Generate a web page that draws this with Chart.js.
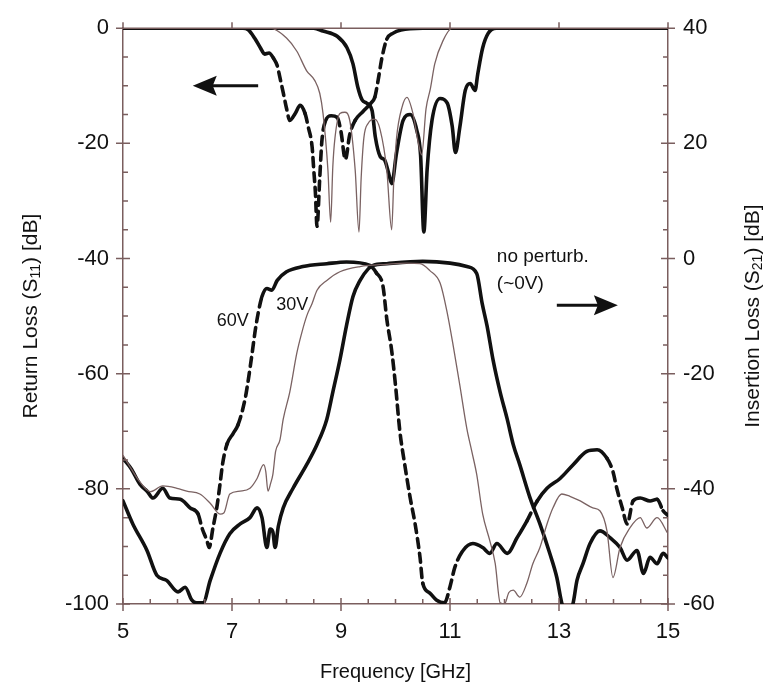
<!DOCTYPE html>
<html>
<head>
<meta charset="utf-8">
<script src="https://cdn.jsdelivr.net/npm/chart.js@4.4.1/dist/chart.umd.min.js"></script>
<style>
  html, body { margin: 0; padding: 0; background: #fff; }
</style>
</head>
<body>
<canvas id="chart" width="769" height="696"></canvas>
<script>
// axis ticks
const freqTicks = [5, 7, 9, 11, 13, 15];
const returnLossTicks = [0, -20, -40, -60, -80, -100];
const insertionLossTicks = [40, 20, 0, -20, -40, -60];

// S11 (left axis), no perturbation (~0 V)
const s11NoPertFreq = [5, 8.5, 8.67, 8.93, 9.11, 9.22, 9.31, 9.39, 9.47, 9.57, 9.63, 9.72, 9.8, 9.87, 9.93, 10.02, 10.14, 10.27, 10.39, 10.46, 10.52, 10.58, 10.67, 10.82, 10.95, 11.04, 11.1, 11.18, 11.28, 11.37, 11.46, 11.51, 11.6, 11.7, 11.85, 15];
const s11NoPertDb   = [0, 0, -0.5, -1.4, -3.4, -6.2, -10.3, -12.5, -13, -14.3, -18.9, -22.3, -22.9, -25, -27, -21.6, -16, -15, -17.7, -22, -35.4, -24.6, -16, -12.2, -13, -17, -21.6, -17.2, -10.8, -9.6, -10.8, -7.9, -3.4, -0.9, 0, 0];

// S11, 30 V
const s11V30Freq = [5, 7.7, 8.0, 8.19, 8.37, 8.52, 8.61, 8.67, 8.76, 8.81, 8.85, 8.89, 8.98, 9.07, 9.16, 9.26, 9.33, 9.37, 9.42, 9.5, 9.62, 9.72, 9.84, 9.93, 9.97, 10.02, 10.12, 10.21, 10.32, 10.42, 10.48, 10.56, 10.64, 10.72, 10.87, 11.04, 15];
const s11V30Db   = [0, 0, -1.7, -4, -7.4, -9.1, -11.3, -14.8, -24.6, -33.7, -24, -19, -14.8, -14.6, -16, -24.6, -35.4, -26, -19, -16.5, -15.8, -17.7, -24.6, -35, -26, -19, -13.7, -12, -14.8, -20, -22, -14, -10.5, -6.2, -2.2, 0, 0];

// S11, 60 V
const s11V60Freq = [5, 7.2, 7.3, 7.42, 7.52, 7.6, 7.68, 7.76, 7.83, 7.88, 7.94, 8.0, 8.06, 8.16, 8.25, 8.34, 8.4, 8.47, 8.5, 8.53, 8.56, 8.61, 8.65, 8.72, 8.82, 8.93, 9.0, 9.08, 9.16, 9.26, 9.4, 9.55, 9.62, 9.68, 9.75, 9.84, 9.95, 10.1, 10.5, 15];
const s11V60Db   = [0, 0, -0.3, -1.8, -3.4, -4.5, -4.3, -5.2, -6.5, -8.6, -11.2, -13.9, -16, -14.8, -13.4, -14.8, -17.2, -20.6, -24.6, -28.5, -34.4, -26, -19.5, -16, -15.2, -15.5, -18, -22.8, -18.5, -16, -14.5, -13, -12, -9.1, -5.2, -1.9, -0.9, -0.3, 0, 0];

// S21 (right axis), no perturbation
const s21NoPertFreq = [5, 5.18, 5.44, 5.62, 5.8, 6.01, 6.14, 6.26, 6.35, 6.47, 6.6, 6.78, 6.96, 7.15, 7.33, 7.46, 7.55, 7.64, 7.7, 7.75, 7.79, 7.85, 7.94, 8.12, 8.37, 8.56, 8.74, 8.85, 8.98, 9.1, 9.22, 9.35, 9.5, 9.59, 9.84, 10.5, 11.0, 11.31, 11.49, 11.59, 11.68, 11.79, 11.92, 12.05, 12.16, 12.28, 12.47, 12.65, 12.83, 12.96, 13.05, 13.15, 13.26, 13.33, 13.44, 13.57, 13.75, 13.94, 14.12, 14.25, 14.43, 14.55, 14.67, 14.8, 14.91, 15];
const s21NoPertDb   = [-42.1, -46.1, -50.7, -55, -55.9, -57.9, -57.1, -59.3, -59.8, -59.8, -55.9, -51.2, -47.8, -46.1, -45, -43.3, -45, -50.2, -47, -47.5, -50.2, -46.5, -43.3, -39.9, -35.8, -32.3, -27.9, -23.2, -17.6, -11.7, -6.6, -3.8, -1.8, -1.2, -0.9, -0.5, -0.8, -1.4, -2.6, -7.8, -11.7, -17.6, -23.2, -27.9, -32.3, -35.8, -41.6, -46.1, -51.2, -55.4, -59.8, -62, -59.8, -55.9, -53, -49.5, -47.3, -48.5, -50.2, -52.4, -50.7, -54.7, -51.9, -53, -51.2, -52];

// S21, 30 V
const s21V30Freq = [5, 5.15, 5.31, 5.5, 5.73, 5.99, 6.17, 6.41, 6.6, 6.78, 6.85, 6.96, 7.15, 7.33, 7.46, 7.58, 7.62, 7.66, 7.71, 7.75, 7.8, 7.88, 7.94, 8.06, 8.19, 8.28, 8.37, 8.47, 8.56, 8.74, 8.98, 9.35, 9.84, 10.2, 10.45, 10.63, 10.82, 10.94, 11.06, 11.18, 11.31, 11.4, 11.49, 11.6, 11.73, 11.83, 11.92, 12.0, 12.08, 12.16, 12.28, 12.41, 12.52, 12.65, 12.78, 12.89, 13.05, 13.2, 13.39, 13.62, 13.75, 13.88, 13.99, 14.12, 14.3, 14.49, 14.61, 14.8, 15];
const s21V30Db   = [-34.2, -36.5, -38.8, -40.5, -39.5, -39.9, -40.4, -40.9, -42.5, -44.4, -44.2, -40.9, -40.4, -39.9, -38.2, -35.8, -37, -40.4, -39, -37.5, -33.5, -31.5, -27.9, -23.2, -16.4, -12.9, -10, -7.8, -5.5, -3.8, -2.3, -1.4, -1.0, -0.8, -0.9, -2.1, -4.3, -9, -15.2, -22, -29.6, -33.5, -37.5, -44.4, -49, -53, -59.8, -60, -58, -57.6, -58.8, -56.4, -53, -50.2, -46.1, -43.3, -40.9, -41.3, -42.1, -43.3, -43.8, -47.3, -55.4, -50.2, -46.8, -45, -46.8, -45, -47.8];

// S21, 60 V
const s21V60Freq = [5, 5.15, 5.31, 5.45, 5.55, 5.73, 5.86, 6.05, 6.23, 6.38, 6.45, 6.54, 6.58, 6.65, 6.72, 6.78, 6.83, 6.91, 7.02, 7.11, 7.24, 7.3, 7.37, 7.42, 7.48, 7.55, 7.64, 7.73, 7.83, 8.0, 8.3, 8.74, 9.1, 9.53, 9.65, 9.77, 9.84, 9.93, 10.0, 10.08, 10.17, 10.27, 10.36, 10.45, 10.5, 10.63, 10.75, 10.9, 11.0, 11.09, 11.24, 11.42, 11.6, 11.73, 11.86, 12.05, 12.23, 12.41, 12.6, 12.78, 13.02, 13.26, 13.51, 13.7, 13.88, 13.99, 14.06, 14.16, 14.25, 14.36, 14.49, 14.67, 14.8, 14.91, 15];
const s21V60Db   = [-34.7, -36.5, -39.2, -40.5, -41.6, -39.9, -41.6, -41.8, -43.3, -44.4, -46.8, -49, -50.2, -46.8, -43.3, -39.2, -35.5, -32.2, -30.4, -28.9, -24.4, -21, -16.4, -12.9, -9.5, -6.6, -5.2, -5.5, -3.8, -2.3, -1.4, -0.9, -0.6, -1.2, -2.5, -4.8, -10.5, -16, -22, -30, -35.8, -41.6, -46.1, -51.9, -56.4, -58.1, -59.3, -59.8, -57, -53.6, -50.7, -49.5, -50.2, -51.2, -49.5, -51.2, -48.5, -45.6, -42.1, -39.9, -38.2, -35.8, -33.5, -33.2, -34.7, -37, -39.9, -43.3, -46.1, -42.1, -41.6, -42.1, -41.8, -43.8, -44.6];

const FONT = 'Liberation Sans, Arial, Helvetica, sans-serif';
const AXIS = '#7a5e5e';
const INK = '#111';
const THIN = '#7a6262';

const pts = (fs, vs) => fs.map((f, i) => ({ x: f, y: vs[i] }));

// the 60 V traces read as dashed only where they run steeply
const steepDash = c => {
  const dx = Math.abs(c.p1.x - c.p0.x), dy = Math.abs(c.p1.y - c.p0.y);
  return dy > 1.8 * dx ? [9, 6] : undefined;
};

const thick = { borderColor: INK, borderWidth: 3.6 };
const thin = { borderColor: THIN, borderWidth: 1.3 };

const datasets = [
  { label: 'S11 30V', data: pts(s11V30Freq, s11V30Db), yAxisID: 'y', ...thin },
  { label: 'S21 30V', data: pts(s21V30Freq, s21V30Db), yAxisID: 'y2', ...thin },
  { label: 'S11 60V', data: pts(s11V60Freq, s11V60Db), yAxisID: 'y', ...thick, segment: { borderDash: steepDash } },
  { label: 'S21 60V', data: pts(s21V60Freq, s21V60Db), yAxisID: 'y2', ...thick, segment: { borderDash: steepDash } },
  { label: 'S11 0V', data: pts(s11NoPertFreq, s11NoPertDb), yAxisID: 'y', ...thick },
  { label: 'S21 0V', data: pts(s21NoPertFreq, s21NoPertDb), yAxisID: 'y2', ...thick }
];

const fixedTicks = list => scale => { scale.ticks = list.map(v => ({ value: v })); };

// tick marks crossing the axes, minor ticks pointing inward, plus the top frame line
const frame = {
  id: 'frame',
  afterDraw(chart) {
    const { ctx, chartArea: a, scales: { x, y, y2 } } = chart;
    ctx.save();
    ctx.strokeStyle = AXIS;
    ctx.lineWidth = 1.5;
    ctx.beginPath();
    ctx.moveTo(a.left, a.top); ctx.lineTo(a.right, a.top);
    for (let f = 5; f <= 15.001; f += 0.5) {
      const px = x.getPixelForValue(f);
      const major = Math.abs(f - Math.round(f)) < 1e-6 && Math.round(f) % 2 === 1;
      if (major) {
        ctx.moveTo(px, a.bottom - 6); ctx.lineTo(px, a.bottom + 7);
        ctx.moveTo(px, a.top); ctx.lineTo(px, a.top - 6);
      } else {
        ctx.moveTo(px, a.bottom); ctx.lineTo(px, a.bottom - 5);
      }
    }
    for (let v = -100; v <= 0; v += 5) {
      const py = y.getPixelForValue(v);
      if (v % 20 === 0) { ctx.moveTo(a.left - 7, py); ctx.lineTo(a.left + 7, py); }
      else { ctx.moveTo(a.left, py); ctx.lineTo(a.left + 5, py); }
    }
    for (let v = -60; v <= 40; v += 5) {
      const py = y2.getPixelForValue(v);
      if (v % 20 === 0) { ctx.moveTo(a.right - 7, py); ctx.lineTo(a.right + 7, py); }
      else { ctx.moveTo(a.right, py); ctx.lineTo(a.right - 5, py); }
    }
    ctx.stroke();
    ctx.restore();
  }
};

// vertical axis titles, both read bottom-to-top, with subscripted S-parameter
const sideTitles = {
  id: 'sideTitles',
  afterDraw(chart) {
    const { ctx, chartArea: a } = chart;
    const cy = (a.top + a.bottom) / 2;
    const draw = (cx, head, sub, tail) => {
      const big = '21px ' + FONT, small = '14px ' + FONT;
      ctx.font = big; const w1 = ctx.measureText(head).width, w3 = ctx.measureText(tail).width;
      ctx.font = small; const w2 = ctx.measureText(sub).width;
      const total = w1 + w2 + w3;
      ctx.save();
      ctx.translate(cx, cy);
      ctx.rotate(-Math.PI / 2);
      ctx.fillStyle = INK;
      ctx.textBaseline = 'alphabetic';
      ctx.textAlign = 'left';
      let px = -total / 2;
      ctx.font = big; ctx.fillText(head, px, 7); px += w1;
      ctx.font = small; ctx.fillText(sub, px, 10); px += w2;
      ctx.font = big; ctx.fillText(tail, px, 7);
      ctx.restore();
    };
    draw(30, 'Return Loss (S', '11', ') [dB]');
    draw(752, 'Insertion Loss (S', '21', ') [dB]');
  }
};

// direction arrows and voltage labels
const notes = {
  id: 'notes',
  afterDatasetsDraw(chart) {
    const { ctx, scales: { x, y, y2 } } = chart;
    const arrow = (x0, x1, py) => {
      const dir = Math.sign(x1 - x0);
      ctx.beginPath();
      ctx.moveTo(x0, py); ctx.lineTo(x1 - dir * 18, py);
      ctx.stroke();
      ctx.beginPath();
      ctx.moveTo(x1, py);
      ctx.lineTo(x1 - dir * 24, py - 10);
      ctx.lineTo(x1 - dir * 20, py);
      ctx.lineTo(x1 - dir * 24, py + 10);
      ctx.closePath();
      ctx.fill();
    };
    ctx.save();
    ctx.strokeStyle = INK;
    ctx.fillStyle = INK;
    ctx.lineWidth = 3;
    arrow(x.getPixelForValue(7.48), x.getPixelForValue(6.28), y.getPixelForValue(-10));
    arrow(x.getPixelForValue(12.96), x.getPixelForValue(14.08), y2.getPixelForValue(-8.1));
    ctx.font = '19px ' + FONT;
    ctx.textBaseline = 'middle';
    ctx.textAlign = 'left';
    ctx.fillText('no perturb.', x.getPixelForValue(11.86), y2.getPixelForValue(0.3));
    ctx.fillText('(~0V)', x.getPixelForValue(11.86), y2.getPixelForValue(-4.4));
    ctx.font = '18px ' + FONT;
    ctx.fillText('60V', x.getPixelForValue(6.72), y2.getPixelForValue(-10.9));
    ctx.fillText('30V', x.getPixelForValue(7.81), y2.getPixelForValue(-8.0));
    ctx.restore();
  }
};

const tickFont = { family: FONT, size: 22 };
const titleFont = { family: FONT, size: 20 };

new Chart(document.getElementById('chart'), {
  type: 'line',
  data: { datasets },
  options: {
    responsive: false,
    animation: false,
    layout: { padding: { top: 22, left: 0, right: 0, bottom: 0 } },
    elements: { point: { radius: 0 }, line: { cubicInterpolationMode: 'monotone', borderCapStyle: 'round', borderJoinStyle: 'round' } },
    plugins: { legend: { display: false }, tooltip: { enabled: false } },
    scales: {
      x: {
        type: 'linear', min: 5, max: 15,
        afterBuildTicks: fixedTicks(freqTicks),
        afterFit: s => { s.height = 92; },
        grid: { display: false, drawTicks: false },
        border: { color: AXIS, width: 1.5 },
        ticks: { font: tickFont, color: INK, padding: 15 },
        title: { display: true, text: 'Frequency [GHz]', font: titleFont, color: INK, padding: { top: 0, bottom: 12 } }
      },
      y: {
        position: 'left', min: -100, max: 0,
        afterBuildTicks: fixedTicks(returnLossTicks),
        afterFit: s => { s.width = 123; },
        grid: { display: false, drawTicks: false },
        border: { color: AXIS, width: 1.5 },
        ticks: { font: tickFont, color: INK, padding: 14 }
      },
      y2: {
        position: 'right', min: -60, max: 40,
        afterBuildTicks: fixedTicks(insertionLossTicks),
        afterFit: s => { s.width = 101; },
        grid: { display: false, drawTicks: false },
        border: { color: AXIS, width: 1.5 },
        ticks: { font: tickFont, color: INK, padding: 15 }
      }
    }
  },
  plugins: [frame, sideTitles, notes]
});
</script>
</body>
</html>
